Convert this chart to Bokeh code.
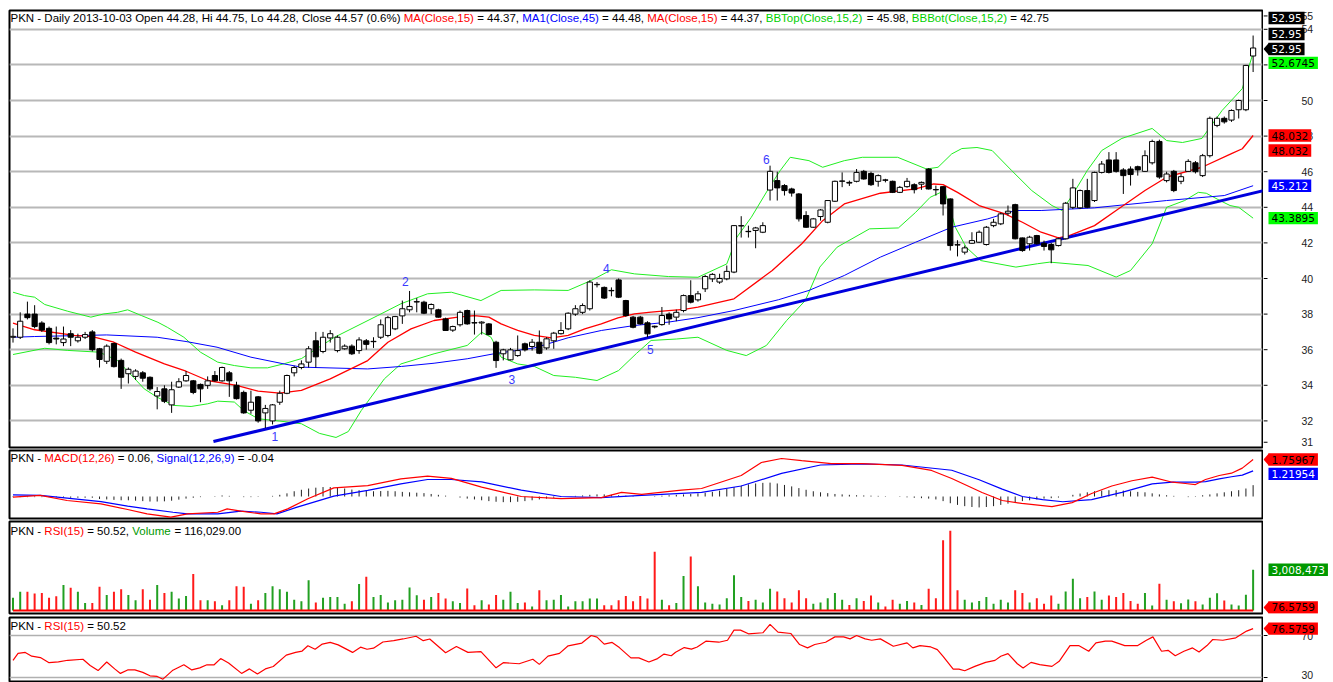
from bokeh.plotting import figure
from bokeh.models import Range1d, FixedTicker, Label, ColumnDataSource
from bokeh.layouts import column, row
from bokeh.embed import file_html
from bokeh.resources import INLINE
from bokeh.core.properties import value

# ---------------- data ----------------
opens = [36.7, 36.7, 38.0, 38.0, 37.5, 37.2, 36.65, 36.4, 36.9, 36.5,
         36.7, 37.0, 36.05, 35.35, 36.35, 35.4, 34.65, 34.5, 34.7, 34.45,
         33.4, 33.8, 32.9, 33.9, 34.25, 34.25, 34.05, 34.0, 34.55, 34.25,
         34.7, 34.0, 33.6, 32.6, 33.35, 32.45, 32.0, 33.05, 33.55, 34.7,
         35.0, 35.3, 36.5, 35.9, 36.66, 35.95, 36.05, 36.2, 35.95, 36.5,
         36.45, 36.7, 36.8, 37.17, 37.9, 38.24, 38.68, 38.67, 38.3, 38.24,
         37.73, 37.1, 37.4, 38.2, 37.52, 37.5, 37.45, 36.42, 35.77, 35.43,
         35.67, 36.33, 36.18, 36.42, 36.1, 36.5, 36.9, 37.17, 38.0, 38.1,
         38.3, 39.65, 39.5, 39.33, 39.92, 38.76, 37.83, 37.83, 37.51, 37.32,
         37.41, 38.0, 37.83, 38.2, 39.04, 38.8, 39.42, 39.98, 39.8, 39.98,
         40.36, 42.95, 42.65, 42.7, 42.6, 44.97, 45.5, 45.22, 45.03, 44.75,
         43.54, 42.88, 43.48, 43.16, 44.34, 45.46, 45.4, 45.46, 46.02, 45.9,
         45.46, 45.54, 45.46, 44.84, 45.16, 45.27, 45.3, 46.15, 45.0, 45.16,
         44.47, 41.9, 41.48, 41.98, 42.04, 41.91, 42.97, 43.07, 43.67, 44.15,
         42.28, 41.95, 42.41, 41.98, 41.91, 41.85, 42.23, 44.0, 43.97, 44.94,
         44.38, 45.96, 46.66, 46.66, 46.1, 46.15, 46.28, 46.02, 46.5, 47.7,
         45.5, 46.02, 45.46, 46.02, 46.5, 45.78, 46.9, 48.6, 49.0, 48.9,
         49.48, 49.48, 52.5]
highs = [37.2, 38.1, 38.7, 38.5, 37.6, 37.3, 37.3, 37.3, 37.1, 36.9,
         37.0, 37.1, 36.1, 36.3, 36.4, 35.5, 35.0, 34.9, 34.8, 34.5,
         33.9, 34.0, 34.2, 34.4, 34.8, 34.3, 34.1, 34.5, 34.8, 35.05,
         34.8, 34.2, 33.7, 33.7, 33.4, 32.9, 32.95, 33.7, 34.6, 35.1,
         35.4, 36.2, 37.0, 37.0, 37.1, 36.8, 36.3, 36.3, 36.7, 36.6,
         36.7, 37.7, 37.9, 37.9, 38.76, 39.3, 38.9, 38.75, 38.6, 38.3,
         37.8, 37.35, 38.2, 38.25, 38.2, 37.6, 37.5, 36.5, 36.05, 36.1,
         36.8, 36.4, 36.6, 37.08, 36.7, 37.0, 37.55, 38.1, 38.5, 38.6,
         39.9, 39.8, 39.55, 39.5, 40.0, 38.8, 37.9, 37.9, 37.6, 37.35,
         38.4, 38.1, 38.25, 39.1, 39.9, 39.3, 40.2, 40.3, 40.27, 40.73,
         43.0, 43.5, 42.97, 42.9, 43.16, 46.34, 46.0, 45.3, 45.1, 44.8,
         43.78, 43.4, 43.9, 44.4, 45.5, 45.96, 45.5, 46.15, 46.1, 46.0,
         45.85, 45.6, 45.5, 45.2, 45.65, 45.35, 45.45, 46.2, 45.22, 45.2,
         44.5, 42.15, 41.85, 42.6, 42.7, 42.95, 43.35, 43.7, 44.1, 44.2,
         42.3, 42.4, 42.45, 42.13, 42.0, 42.3, 44.3, 45.6, 45.0, 45.6,
         46.0, 46.6, 47.1, 47.1, 46.2, 46.3, 46.34, 47.2, 47.8, 47.8,
         46.0, 46.1, 45.9, 46.7, 46.6, 47.0, 49.1, 49.1, 49.1, 49.5,
         50.05, 52.0, 53.65]
lows = [36.4, 36.6, 37.7, 37.2, 37.0, 36.3, 36.3, 36.2, 36.2, 36.4,
        36.6, 35.9, 35.0, 35.2, 35.0, 33.8, 34.1, 34.3, 34.2, 33.7,
        32.65, 33.0, 32.45, 33.85, 34.2, 33.5, 33.05, 33.8, 34.2, 34.2,
        33.35, 33.2, 32.4, 32.4, 31.9, 31.6, 31.8, 32.9, 33.5, 34.5,
        34.9, 35.0, 35.0, 35.8, 36.4, 35.85, 36.0, 35.7, 35.77, 36.0,
        36.1, 36.6, 36.7, 37.1, 37.45, 38.1, 38.1, 38.0, 38.0, 37.8,
        37.05, 37.0, 37.3, 37.4, 36.85, 36.85, 36.8, 34.98, 35.4, 35.4,
        35.6, 35.9, 35.95, 35.75, 36.0, 36.05, 36.85, 37.1, 37.9, 38.0,
        38.2, 39.5, 38.85, 39.0, 38.9, 37.85, 37.2, 37.4, 36.7, 37.2,
        37.35, 37.4, 37.6, 38.1, 38.6, 38.7, 39.24, 39.8, 39.7, 39.9,
        40.3, 42.3, 42.3, 41.7, 42.55, 44.38, 44.38, 44.66, 44.6, 43.2,
        42.85, 42.85, 43.25, 43.1, 44.3, 45.13, 45.2, 45.4, 45.55, 45.2,
        45.16, 45.4, 44.8, 44.8, 45.1, 44.78, 44.98, 45.0, 44.66, 43.54,
        41.57, 41.24, 41.35, 41.95, 42.0, 41.85, 42.88, 43.0, 43.54, 42.2,
        41.5, 41.57, 41.9, 41.57, 40.86, 41.8, 42.2, 43.9, 43.9, 43.95,
        44.3, 45.9, 45.9, 45.95, 44.75, 45.22, 45.78, 46.0, 46.4, 45.6,
        45.4, 44.85, 45.3, 46.0, 45.9, 45.7, 46.8, 48.5, 48.7, 48.8,
        48.99, 49.4, 51.6]
closes = [36.75, 37.6, 37.8, 37.3, 37.1, 36.4, 36.6, 36.6, 36.7, 36.7,
          36.85, 36.0, 35.45, 36.2, 35.05, 34.45, 34.9, 34.8, 34.4, 33.8,
          33.65, 33.1, 33.75, 34.2, 34.55, 33.6, 33.8, 34.25, 34.25, 35.0,
          34.25, 33.25, 32.45, 33.05, 32.0, 32.7, 32.9, 33.55, 34.55, 35.0,
          35.2, 36.05, 35.6, 36.7, 36.9, 36.7, 36.2, 35.77, 36.55, 36.3,
          36.47, 37.4, 37.8, 37.86, 38.3, 38.43, 38.7, 38.05, 38.54, 37.83,
          37.08, 37.3, 38.1, 37.45, 37.5, 37.55, 36.85, 35.39, 35.99, 35.99,
          35.95, 35.99, 36.42, 35.8, 36.61, 36.93, 37.08, 38.05, 38.3, 38.48,
          39.8, 39.67, 38.9, 39.31, 38.95, 37.92, 37.26, 37.45, 36.89, 37.28,
          37.92, 37.73, 38.1, 39.04, 38.67, 39.14, 40.11, 40.23, 40.0, 40.4,
          42.97, 42.97, 42.63, 42.84, 42.97, 46.02, 45.09, 44.94, 44.8, 43.35,
          42.88, 43.35, 43.85, 44.38, 45.46, 45.48, 45.36, 45.96, 45.59, 45.27,
          45.78, 45.52, 44.84, 45.12, 45.46, 44.99, 45.4, 45.03, 44.98, 44.19,
          41.85, 41.88, 41.72, 42.13, 42.6, 42.88, 43.16, 43.63, 43.78, 42.23,
          41.57, 42.32, 41.95, 41.8, 41.61, 42.23, 44.23, 45.09, 44.94, 44.0,
          45.96, 46.43, 45.96, 46.02, 45.78, 45.84, 46.1, 46.9, 47.7, 45.7,
          45.87, 44.94, 45.72, 46.58, 46.0, 46.9, 49.0, 49.0, 48.8, 49.44,
          50.0, 51.97, 52.95]
# volume in millions of shares
volumes = [0.95, 1.38, 1.38, 1.25, 1.3, 0.95, 1.05, 1.88, 1.68, 1.38,
           0.55, 0.55, 1.75, 1.15, 1.38, 1.58, 1.15, 0.75, 1.58, 0.8,
           1.88, 1.3, 1.38, 0.88, 1.08, 2.7, 0.75, 0.75, 0.68, 0.38,
           0.75, 1.8, 1.75, 0.5, 0.75, 1.3, 1.8, 1.58, 1.38, 0.8,
           0.68, 2.23, 0.6, 0.95, 1.0, 1.0, 0.5, 0.68, 1.95, 2.5,
           1.0, 1.15, 0.6, 0.75, 0.8, 1.7, 1.13, 0.8, 1.0, 1.3,
           0.88, 0.68, 0.55, 1.63, 0.38, 0.75, 0.45, 1.15, 0.8, 1.38,
           0.55, 0.6, 0.3, 1.5, 0.75, 0.8, 1.15, 0.3, 0.68, 0.68,
           0.88, 0.88, 0.38, 0.38, 0.75, 1.08, 0.68, 1.08, 0.88, 4.35,
           0.8, 0.38, 0.55, 2.55, 4.0, 1.8,
           0.6, 0.5, 0.45, 0.9, 2.6, 1.0, 0.7, 0.8, 0.6, 1.6,
           1.4, 0.9, 0.6, 1.5, 0.9, 0.5, 0.6, 0.9, 1.3, 0.8,
           0.4, 0.9, 0.7, 1.1, 0.6, 0.3, 0.8, 0.5, 0.7, 0.6,
           0.4, 1.6, 0.9, 5.2, 5.9, 1.5, 0.8, 0.6, 0.7, 1.0,
           0.5, 0.8, 0.6, 1.5, 1.3, 0.6, 0.9, 0.5, 1.1, 0.5,
           1.4, 2.35, 0.9, 1.0, 1.4, 0.8, 1.1, 1.0, 1.3, 0.7,
           0.5, 1.3,
           0.37, 1.97, 0.79, 0.69, 0.54, 0.81, 0.69, 0.44, 0.94, 1.28,
           0.74, 0.44, 0.37, 1.16, 3.008473]

ma15_idx = [0, 3, 8.5, 11, 14, 17, 21, 24, 27, 31, 34, 37, 40, 44, 49.2, 52, 55.2, 58.4, 61.7, 64,
            66, 67.7, 70, 72.3, 74.7, 77, 79.3, 81.6, 83.9, 86.2, 88.5, 90.9, 93.1, 95, 100, 105.3,
            109.4, 112.3, 115.3, 120.3, 125.2, 127.7, 129, 131, 134, 137.6, 140, 142.6, 145, 146.5,
            150, 153, 157, 160, 164.9, 169, 170.5, 172]
ma15_val = [37.49, 37.12, 36.8, 36.74, 36.42, 35.86, 35.2, 34.79, 34.27, 33.99, 33.67, 33.56, 33.71,
            34.36, 35.39, 36.42, 37.17, 37.64, 37.83, 37.92, 37.83, 37.45, 37.08, 36.8, 36.67, 36.8,
            37.17, 37.45, 37.79, 38.01, 38.11, 38.2, 38.26, 38.39, 38.86, 40.45, 41.95, 43.25, 44.19,
            44.79, 45.03, 45.31, 45.27, 44.84, 44.1, 43.63, 43.16, 42.6, 42.28, 42.41, 42.97, 43.82,
            44.94, 45.69, 46.25, 47.02, 47.29, 48.032]

ma45_idx = [0, 3, 13, 20, 24, 28.3, 33, 37.6, 40, 49.2, 53.9, 58.4, 63, 66.7, 72.3, 77, 81.6, 86.2,
            90.9, 95, 100, 106.2, 110.4, 115.3, 120.3, 125.2, 130.2, 135.2, 139, 142.6, 150, 160, 168, 172]
ma45_val = [36.7, 36.74, 36.83, 36.7, 36.46, 36.14, 35.58, 35.2, 35.02, 34.92, 35.06, 35.24, 35.49,
            35.77, 36.1, 36.67, 37.08, 37.36, 37.55, 37.8, 38.2, 38.81, 39.33, 40.17, 41.2, 42.04,
            42.88, 43.35, 43.82, 43.82, 43.97, 44.38, 44.66, 45.212]

bbtop_idx = [0, 1.6, 3, 4.4, 7.6, 10.8, 12.6, 14.5, 15.9, 17.8, 20.1, 21.4, 23.7, 26, 28.4, 30.7, 33,
             35.3, 37.6, 40, 44.6, 50.6, 53.8, 57.5, 60.8, 64.9, 67.7, 72.3, 77, 80.2, 83, 86.2, 90.9,
             95, 99, 100.4, 102.4, 104.9, 106.4, 107.8, 110.4, 112.3, 115.3, 117.8, 122.7, 126.7,
             128.3, 130.2, 131.6, 133.7, 135.8, 138.5, 141.3, 144.1, 145.5, 146.9, 149, 151, 153.8,
             158, 160, 162.2, 164.9, 167.7, 170.5, 172]
bbtop_val = [39.23, 39.04, 38.95, 38.54, 38.16, 37.83, 38.01, 38.1, 38.24, 37.92, 37.54, 37.26, 36.7,
             35.86, 35.3, 35.11, 34.98, 34.98, 35.21, 35.5, 36.7, 37.92, 38.58, 39.14, 39.23, 38.76,
             39.33, 39.36, 39.33, 39.89, 40.49, 40.26, 40.11, 40.07, 40.82, 42.32, 43.44, 45.12, 46.06,
             46.81, 46.62, 46.25, 46.62, 46.81, 46.81, 46.15, 46.25, 47.0, 47.3, 47.36, 47.19, 46.07,
             44.94, 44.1, 43.82, 44.66, 46.07, 47.19, 47.87, 48.43, 47.75, 47.64, 47.87, 49.44, 50.67,
             52.6745]

bbbot_idx = [0, 4.4, 7.6, 12, 14.5, 16.7, 18.2, 20, 22.3, 24.7, 27, 28.4, 30.7, 32, 34, 37, 40, 42.5,
             44.8, 46.5, 48.3, 51.5, 53.8, 58.4, 63, 65, 66.3, 67.7, 70, 72.3, 75, 78, 81, 84, 86.5,
             88.5, 92, 95, 99, 101.7, 104.5, 107.3, 109.9, 111.9, 114.3, 118.8, 122.8, 125.2, 127.2,
             129.2, 130.7, 132.2, 134.2, 139.1, 142.1, 143.8, 149.1, 153, 155, 158, 160, 162.5, 164.4,
             165.5, 167.4, 168.8, 170, 172]
bbbot_val = [35.73, 36.08, 35.96, 35.86, 35.39, 34.45, 33.8, 33.33, 32.87, 32.81, 32.96, 33.11, 33.06,
             32.58, 32.12, 31.99, 31.84, 31.3, 31.07, 31.4, 32.58, 34.36, 35.2, 35.77, 36.24, 36.98,
             36.7, 35.58, 35.2, 35.06, 34.55, 34.45, 34.27, 34.83, 35.8, 36.52, 36.6, 36.7, 35.96,
             35.67, 36.24, 37.64, 38.77, 40.64, 41.76, 42.79, 42.84, 43.72, 44.56, 44.94, 42.88, 41.76,
             41.01, 40.64, 40.83, 40.92, 40.73, 40.08, 40.45, 41.95, 44.0, 44.38, 44.84, 44.79, 44.38,
             44.1, 44.0, 43.3895]

trend_idx = [27.8, 173.5]
trend_val = [30.84, 44.94]

wave_idx = [36.3, 54.4, 69.2, 82.3, 88.4, 104.5]
wave_val = [31.12, 39.83, 34.33, 40.56, 36.01, 46.69]
wave_txt = ["1", "2", "3", "4", "5", "6"]

macd_idx = [0, 3.8, 7.5, 12.2, 15.9, 18.6, 21.9, 24.2, 28.4, 29.7, 31.6, 34.4, 36.2, 38.1, 40.9, 44.5,
            49.2, 53.8, 57.5, 60.8, 65, 70.5, 76, 81.6, 84.4, 87.2, 92.7, 95.5, 101, 103.8, 106.6,
            109.4, 113.5, 117.7, 123.3, 127.4, 130.2, 134.4, 137.2, 139.9, 144.1, 146.9, 149.6, 152.4,
            155.2, 158, 160.8, 162.6, 164, 165.4, 167.3, 169, 170.5, 172]
macd_val = [-0.03, 0.05, -0.19, -0.35, -0.62, -0.83, -0.98, -0.83, -0.75, -0.59, -0.7, -0.83, -0.83,
            -0.59, -0.11, 0.41, 0.52, 0.84, 0.97, 0.86, 0.45, 0.0, -0.1, -0.05, 0.2, 0.1, 0.3, 0.38,
            1.0, 1.62, 1.81, 1.71, 1.57, 1.57, 1.48, 1.24, 0.86, 0.19, -0.19, -0.33, -0.48, -0.29,
            0.14, 0.5, 0.75, 0.92, 0.68, 0.62, 0.57, 0.81, 1.0, 1.11, 1.35, 1.75967]

signal_idx = [0, 3.8, 7.5, 12.2, 15.9, 18.6, 22.2, 24.2, 28.4, 31.6, 34.4, 36.6, 39.3, 44.5, 49.2,
              53.8, 57.5, 60.8, 65, 70.5, 76, 81.6, 87.2, 95.5, 101, 106.6, 112, 117.7, 123.3, 130.2,
              134, 137.2, 140, 142.8, 145.6, 149.6, 153.8, 158, 160.8, 162.6, 164, 165.4, 167.3, 169,
              170.5, 172]
signal_val = [0.08, 0.05, -0.08, -0.24, -0.46, -0.59, -0.75, -0.83, -0.83, -0.7, -0.75, -0.83, -0.52,
              0.02, 0.29, 0.6, 0.81, 0.81, 0.7, 0.3, 0.0, -0.05, 0.05, 0.2, 0.5, 1.1, 1.5, 1.55, 1.5,
              1.25, 0.8, 0.35, 0.0, -0.15, -0.25, -0.15, 0.2, 0.6, 0.68, 0.68, 0.68, 0.71, 0.84, 0.94,
              1.02, 1.21954]

macd_hist = [-0.03, -0.03, -0.03, -0.03, -0.03, -0.03, -0.03,
             -0.06, -0.06, -0.06, -0.06, -0.06,
             -0.12, -0.14, -0.16, -0.18, -0.18,
             -0.2, -0.22, -0.24, -0.24, -0.23, -0.2, -0.15,
             -0.1, -0.06, -0.03, 0.0, 0.02, 0.05, 0.03, 0.0, -0.03, -0.03, -0.02, 0.0, 0.03, 0.08,
             0.15, 0.25, 0.32, 0.38, 0.42, 0.45, 0.45,
             0.42, 0.38, 0.33, 0.3, 0.27, 0.25, 0.26, 0.27, 0.25, 0.22, 0.2,
             0.18, 0.16, 0.12, 0.08, 0.04, 0.0, -0.05,
             -0.1, -0.14, -0.18, -0.22, -0.25, -0.27, -0.27, -0.25, -0.22, -0.18,
             -0.14, -0.1, -0.06, -0.03, 0.0, 0.03, 0.05, 0.08, 0.1, 0.1, 0.08, 0.06, 0.04,
             0.02, 0.0, 0.0, 0.02, 0.04, 0.06, 0.08, 0.1, 0.12, 0.15, 0.18,
             0.22, 0.28, 0.36, 0.45, 0.52, 0.58, 0.62, 0.65, 0.66, 0.62, 0.55, 0.48, 0.4, 0.32,
             0.25, 0.2, 0.16, 0.12, 0.1, 0.08, 0.06, 0.05, 0.04, 0.03, 0.02, 0.0, -0.02, -0.04, -0.06,
             -0.08, -0.1, -0.14,
             -0.22, -0.32, -0.4, -0.46, -0.5, -0.52, -0.5, -0.46, -0.4, -0.34, -0.28, -0.22, -0.18,
             -0.14, -0.1, -0.08, -0.05, 0.0,
             0.08, 0.14, 0.2, 0.25, 0.28, 0.3, 0.3, 0.28, 0.25, 0.22, 0.2, 0.15, 0.1, 0.06, 0.03, 0.0,
             -0.03, 0.02, 0.06, 0.1, 0.15, 0.2, 0.25, 0.3, 0.38, 0.54]

rsi_idx = [0, 0.7, 1.7, 2.6, 3.8, 5, 6.3, 7.6, 9.7, 10.7, 11.8, 13, 14.1, 14.9, 15.9, 16.9, 18, 19, 20,
           20.8, 22.1, 23.7, 24.8, 25.9, 26.9, 27.9, 28.8, 29.9, 31.7, 32.8, 33.9, 35, 36.1, 37.9,
           39.2, 40.1, 40.9, 41.9, 42.9, 44, 45.1, 47.1, 48.2, 49.1, 50, 51.3, 52.8, 54.1, 55.9, 56.9,
           57.8, 60, 61.5, 63.1, 64.9, 67, 68, 70.2, 72.1, 73, 74.2, 75.8, 77, 78.9, 80.2, 81, 82,
           83.1, 84.1, 85.7, 86.8, 88.2, 89.4, 90.3, 91.3, 91.9, 93.1, 94.1, 94.9, 96.1, 97.9, 99.1,
           100, 100.9, 102, 104, 105, 106.1, 107.9, 109.1, 110.2, 111.2, 112.7, 114, 115.2, 116.1,
           117, 118.2, 119.1, 120.3, 122.1, 124, 124.8, 125.8, 127.3, 128.2, 129, 130.4, 131.2, 132,
           133.4, 134.9, 136.2, 137, 138, 139.3, 140.1, 141.2, 142.4, 144.1, 145.1, 146.6, 147.8,
           149.2, 150.2, 151.5, 152.4, 154.2, 156, 157.2, 158.1, 159.3, 160.2, 161.2, 162.4, 163.6,
           164.5, 165.6, 166.4, 167.8, 169.6, 171.1, 172]
rsi_val = [46.4, 53.0, 53.9, 50.3, 49.0, 44.1, 44.8, 46.4, 47.4, 41.5, 36.6, 44.8, 38.2, 33.9, 37.2,
           37.2, 34.9, 31.6, 31.0, 28.4, 36.6, 42.1, 37.2, 39.2, 42.1, 42.1, 48.0, 43.8, 33.9, 38.2,
           33.3, 38.2, 40.5, 51.3, 53.9, 55.2, 60.2, 56.9, 61.8, 63.4, 61.1, 53.9, 58.9, 56.9, 57.9,
           63.8, 65.1, 66.7, 69.3, 65.1, 66.7, 53.6, 59.5, 53.9, 54.6, 39.2, 44.1, 43.1, 47.4, 42.5,
           50.3, 53.0, 60.2, 62.8, 70.0, 68.4, 61.8, 63.4, 58.5, 48.7, 48.7, 44.8, 48.0, 52.3, 50.7,
           54.0, 58.5, 57.0, 59.1, 64.6, 63.6, 65.5, 75.1, 75.1, 71.6, 72.6, 80.6, 73.2, 71.9, 61.4,
           58.2, 61.4, 63.6, 68.7, 68.7, 66.8, 70.0, 66.8, 65.5, 66.8, 59.8, 63.0, 58.2, 60.4, 59.1,
           56.6, 50.2, 38.0, 38.0, 36.4, 40.6, 44.4, 46.3, 50.2, 52.7, 43.1, 39.0, 44.4, 42.2, 40.6,
           45.4, 60.4, 60.4, 55.0, 63.0, 64.6, 64.6, 60.4, 60.4, 65.5, 68.7, 55.0, 55.9, 50.8, 55.0,
           58.2, 54.3, 60.4, 66.2, 65.5, 67.8, 74.2, 76.5759]

price_ticks = [30.8, 32, 34, 36, 38, 40, 42, 44, 46, 48, 50, 52, 54, 54.75]
price_tick_labels = ["31", "32", "34", "36", "38", "40", "42", "44", "46", "48", "50", "52", "54", "55"]
price_grid = [32, 34, 36, 38, 40, 42, 44, 46, 48, 50, 52, 54]
rsi_ticks = [30, 70]
rsi_tick_labels = ["30", "70"]

main_title = [("PKN - Daily 2013-10-03 Open 44.28, Hi 44.75, Lo 44.28, Close 44.57 (0.6%) ", "#000000"),
              ("MA(Close,15)", "#ff0000"), (" = 44.37, ", "#000000"),
              ("MA1(Close,45)", "#0000ff"), (" = 44.48, ", "#000000"),
              ("MA(Close,15)", "#ff0000"), (" = 44.37, ", "#000000"),
              ("BBTop(Close,15,2)", "#00d000"), (" = 45.98, ", "#000000"),
              ("BBBot(Close,15,2)", "#00d000"), (" = 42.75", "#000000")]
macd_title = [("PKN - ", "#000000"), ("MACD(12,26)", "#ff0000"), (" = 0.06, ", "#000000"),
              ("Signal(12,26,9)", "#0000ff"), (" = -0.04", "#000000")]
vol_title = [("PKN - ", "#000000"), ("RSI(15)", "#ff0000"), (" = 50.52, ", "#000000"),
             ("Volume", "#009900"), (" = 116,029.00", "#000000")]
rsi_title = [("PKN - ", "#000000"), ("RSI(15)", "#ff0000"), (" = 50.52", "#000000")]

# ---------------- layout helpers (page pixels) ----------------
STEP = 7.21
X0 = 12.5


def px_to_bar(px):
    return (px - X0) / STEP


PANEL_W = 1263      # frame from x=9 to x=1262
SIDE_W = 70         # value boxes / axis labels, x=1263..1333
FL = 9
FONT = "Liberation Sans"
BOX_FONT = "DejaVu Sans"
BOX_SIZE = 10.5
PXU = {}            # pixels per data unit of each side figure

ARIAL = {' ': 569, ',': 569, '.': 569, '-': 682, '(': 682, ')': 682, '%': 1821, '=': 1196,
         'A': 1366, 'B': 1366, 'C': 1479, 'D': 1479, 'H': 1479, 'I': 569, 'K': 1366, 'L': 1139,
         'M': 1706, 'N': 1479, 'O': 1593, 'P': 1366, 'R': 1479, 'S': 1366, 'T': 1251, 'V': 1366,
         'a': 1139, 'b': 1139, 'c': 1024, 'e': 1139, 'g': 1139, 'i': 455, 'l': 455, 'm': 1706,
         'n': 1139, 'o': 1139, 'p': 1139, 's': 1024, 't': 569, 'u': 1139, 'y': 1024}


def tw(s, size):
    return sum(ARIAL.get(c, 1139) for c in s) * size / 2048.0


def tw_dv(s, size):
    return sum(651 if c in ".," else 1303 for c in s) * size / 2048.0


xr = Range1d(px_to_bar(FL), px_to_bar(1262))


def make_panel(height, bt, bb, yr):
    fig = figure(width=PANEL_W, height=height, x_range=xr, y_range=yr,
                 output_backend="svg", toolbar_location=None, x_axis_location=None,
                 y_axis_location=None, min_border_left=FL, min_border_right=1,
                 min_border_top=bt, min_border_bottom=bb, title=None,
                 background_fill_color="white", border_fill_color="white",
                 outline_line_color="black", outline_line_width=2)
    for g in fig.grid:
        g.visible = False
    return fig


def make_side(height, bt, bb, yr):
    fig = figure(width=SIDE_W, height=height, x_range=Range1d(1263, 1333), y_range=yr,
                 output_backend="svg", toolbar_location=None, x_axis_location=None,
                 y_axis_location=None, min_border_left=0, min_border_right=0,
                 min_border_top=bt, min_border_bottom=bb, title=None,
                 background_fill_color="white", border_fill_color="white",
                 outline_line_color=None)
    for g in fig.grid:
        g.visible = False
    PXU[fig.id] = (height - bt - bb) / (yr.end - yr.start)
    return fig


def add_axis(side, ticks, labels, offsets=None):
    side.segment(x0=[1263] * len(ticks), y0=ticks, x1=[1267] * len(ticks), y1=ticks,
                 color="black", line_width=1)
    side.text(x=[1301] * len(ticks), y=ticks, text=labels, text_color="#222222",
              y_offset=offsets if offsets else 0,
              text_font=value(FONT), text_font_size="10.5px", text_align="left",
              text_baseline="middle")


def add_title(fig, segs, page_y, frame_bottom, size=11.5, x0=10):
    x = x0
    for txt, col in segs:
        lead = len(txt) - len(txt.lstrip(" "))
        fig.add_layout(Label(x=x + tw(" " * lead, size) - FL, y=frame_bottom - page_y,
                             x_units="screen", y_units="screen", text=txt.strip(),
                             text_color=col, text_font=FONT, text_font_size=f"{size}px",
                             text_align="left", text_baseline="middle"))
        x += tw(txt, size)


def add_box(side, y, txt, bg, fg, dy=0, arrow=False):
    k = PXU[side.id]
    yc = y + dy / k
    h = 6.2 / k
    w = tw_dv(txt, BOX_SIZE) + 6
    side.quad(left=[1268], right=[1268 + w], bottom=[yc - h], top=[yc + h],
              fill_color=bg, line_color=None)
    side.text(x=[1271], y=[yc], text=[txt], text_color=fg, text_font=value(BOX_FONT),
              text_font_size=f"{BOX_SIZE}px", text_align="left", text_baseline="middle")
    if arrow:
        side.patch(x=[1263, 1268.5, 1268.5], y=[yc, yc + h, yc - h], color=bg, line_width=0)


N = len(closes)
bars = list(range(N))
up = [closes[i] >= opens[i] for i in range(N)]

# ---------------- main price panel: page y 0..449, frame 10..447 ----------------
PR = Range1d(50 - 347 / 17.8, 50 + 90 / 17.8)
p = make_panel(449, 10, 2, PR)
p.ygrid.visible = True
p.ygrid.ticker = FixedTicker(ticks=price_grid)
p.ygrid.grid_line_color = "#b8b8b8"
p.ygrid.grid_line_width = 2

src = ColumnDataSource(dict(
    x=bars, low=lows, high=highs,
    top=[max(opens[i], closes[i]) for i in range(N)],
    bottom=[min(opens[i], closes[i]) for i in range(N)],
    fill=["white" if u else "black" for u in up]))

p.line(bbtop_idx, bbtop_val, color="#22ee22", line_width=1)
p.line(bbbot_idx, bbbot_val, color="#22ee22", line_width=1)
p.line(ma45_idx, ma45_val, color="#0000ff", line_width=1)
p.line(ma15_idx, ma15_val, color="#ff0000", line_width=1.3)
p.line(trend_idx, trend_val, color="#0000dd", line_width=3)
p.segment(x0="x", y0="low", x1="x", y1="high", source=src, color="black", line_width=1)
p.vbar(x="x", width=0.72, top="top", bottom="bottom", source=src, fill_color="fill",
       line_color="black", line_width=1)
p.text(x=wave_idx, y=wave_val, text=wave_txt, text_color="#3a3aff", text_font=value(FONT),
       text_font_size="12px", text_align="center", text_baseline="middle")
add_title(p, main_title, 17.5, 447)

sp = make_side(449, 10, 2, PR)
add_axis(sp, price_ticks, price_tick_labels)
last_close = f"{closes[-1]:g}"
add_box(sp, closes[-1], last_close, "#000000", "#ffffff", dy=30)
add_box(sp, closes[-1], last_close, "#000000", "#ffffff", dy=14)
add_box(sp, closes[-1], last_close, "#000000", "#ffffff", dy=-1, arrow=True)
add_box(sp, bbtop_val[-1], f"{bbtop_val[-1]:g}", "#00ff00", "#000000", dy=-10)
add_box(sp, ma15_val[-1], f"{ma15_val[-1]:g}", "#ff0000", "#000000", dy=0)
add_box(sp, ma15_val[-1], f"{ma15_val[-1]:g}", "#ff0000", "#000000", dy=-15)
add_box(sp, ma45_val[-1], f"{ma45_val[-1]:g}", "#0000ff", "#ffffff", dy=0)
add_box(sp, bbbot_val[-1], f"{bbbot_val[-1]:g}", "#00ff00", "#000000", dy=0)

# ---------------- MACD panel: page y 449..520, frame 450..518 ----------------
MR = Range1d(-22 / 21.0, 46 / 21.0)
pm = make_panel(71, 1, 2, MR)
pm.segment(x0=bars[:len(macd_hist)], y0=0, x1=bars[:len(macd_hist)], y1=macd_hist,
           color="#222222", line_width=1)
pm.line(signal_idx, signal_val, color="#0000ff", line_width=1.2)
pm.line(macd_idx, macd_val, color="#ff0000", line_width=1.2)
add_title(pm, macd_title, 457, 518)
spm = make_side(71, 1, 2, MR)
add_box(spm, macd_val[-1], f"{macd_val[-1]:g}", "#ff0000", "#000000", arrow=True)
add_box(spm, signal_val[-1], f"{signal_val[-1]:g}", "#0000ff", "#ffffff", dy=-3)

# ---------------- Volume panel: page y 520..615, frame 521..613 ----------------
VR = Range1d(-0.222e6, 6.58e6)
pv = make_panel(95, 1, 2, VR)
vol_shares = [v * 1e6 for v in volumes]
vcol = ["#22a022" if u else "#ff1a1a" for u in up]
pv.segment(x0=bars, y0=0, x1=bars, y1=vol_shares, color=vcol, line_width=2)
pv.line(rsi_idx, rsi_val, color="#ff0000", line_width=2)
add_title(pv, vol_title, 530, 613)
spv = make_side(95, 1, 2, VR)
add_box(spv, vol_shares[-1], f"{round(vol_shares[-1]):,}", "#009900", "#ffffff")
add_box(spv, rsi_val[-1], f"{rsi_val[-1]:g}", "#ff0000", "#000000", dy=3, arrow=True)

# ---------------- RSI panel: page y 615..682, frame 617..682 ----------------
RR = Range1d(30 - 5 / 1.05, 70 + 18 / 1.05)
pr = make_panel(67, 2, 0, RR)
pr.ygrid.visible = True
pr.ygrid.ticker = FixedTicker(ticks=rsi_ticks)
pr.ygrid.grid_line_color = "#b0b0b0"
pr.ygrid.grid_line_width = 1.5
pr.line(rsi_idx, rsi_val, color="#ff0000", line_width=1.2)
add_title(pr, rsi_title, 625, 682)
spr = make_side(67, 2, 0, RR)
add_axis(spr, rsi_ticks, rsi_tick_labels, offsets=[-3, 0])
add_box(spr, rsi_val[-1], f"{rsi_val[-1]:g}", "#ff0000", "#000000", arrow=True)

layout = column(row(p, sp, spacing=0), row(pm, spm, spacing=0), row(pv, spv, spacing=0),
                row(pr, spr, spacing=0), spacing=0)
with open("out.html", "w", encoding="utf-8") as f:
    f.write(file_html(layout, INLINE))
